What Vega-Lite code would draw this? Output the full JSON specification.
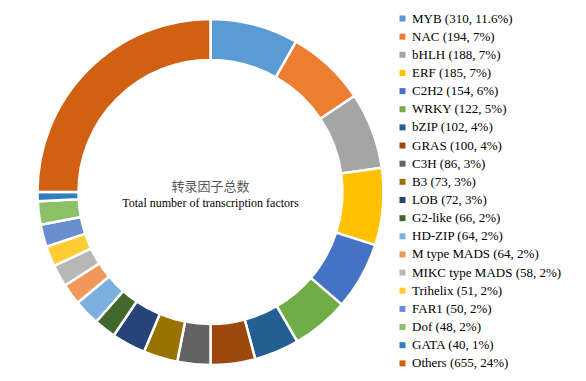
{
  "$schema": "https://vega.github.io/schema/vega-lite/v6.json",
  "width": 421,
  "height": 384,
  "padding": 0,
  "autosize": {"type": "pad"},
  "config": {"view": {"stroke": null}, "font": "Liberation Serif"},
  "layer": [
    {
      "data": {"values": [
        {"i": 1, "label": "MYB (310, 11.6%)", "share": 29.65},
        {"i": 2, "label": "NAC (194, 7%)", "share": 26.65},
        {"i": 3, "label": "bHLH (188, 7%)", "share": 25.65},
        {"i": 4, "label": "ERF (185, 7%)", "share": 25.95},
        {"i": 5, "label": "C2H2 (154, 6%)", "share": 22.7},
        {"i": 6, "label": "WRKY (122, 5%)", "share": 19.3},
        {"i": 7, "label": "bZIP (102, 4%)", "share": 15.1},
        {"i": 8, "label": "GRAS (100, 4%)", "share": 15.0},
        {"i": 9, "label": "C3H (86, 3%)", "share": 11.1},
        {"i": 10, "label": "B3 (73, 3%)", "share": 11.5},
        {"i": 11, "label": "LOB (72, 3%)", "share": 11.4},
        {"i": 12, "label": "G2-like (66, 2%)", "share": 7.4},
        {"i": 13, "label": "HD-ZIP (64, 2%)", "share": 8.8},
        {"i": 14, "label": "M type MADS (64, 2%)", "share": 7.1},
        {"i": 15, "label": "MIKC type MADS (58, 2%)", "share": 7.4},
        {"i": 16, "label": "Trihelix (51, 2%)", "share": 6.9},
        {"i": 17, "label": "FAR1 (50, 2%)", "share": 7.5},
        {"i": 18, "label": "Dof (48, 2%)", "share": 7.8},
        {"i": 19, "label": "GATA (40, 1%)", "share": 3.1},
        {"i": 20, "label": "Others (655, 24%)", "share": 90.0}
      ]},
      "mark": {"type": "arc", "outerRadius": 173, "innerRadius": 132, "stroke": "white", "strokeWidth": 2.5},
      "encoding": {
        "theta": {"field": "share", "type": "quantitative", "stack": true},
        "order": {"field": "i", "type": "quantitative"},
        "color": {
          "field": "label",
          "type": "nominal",
          "scale": {
            "domain": ["MYB (310, 11.6%)", "NAC (194, 7%)", "bHLH (188, 7%)", "ERF (185, 7%)", "C2H2 (154, 6%)", "WRKY (122, 5%)", "bZIP (102, 4%)", "GRAS (100, 4%)", "C3H (86, 3%)", "B3 (73, 3%)", "LOB (72, 3%)", "G2-like (66, 2%)", "HD-ZIP (64, 2%)", "M type MADS (64, 2%)", "MIKC type MADS (58, 2%)", "Trihelix (51, 2%)", "FAR1 (50, 2%)", "Dof (48, 2%)", "GATA (40, 1%)", "Others (655, 24%)"],
            "range": ["#5B9BD5", "#ED7D31", "#A5A5A5", "#FFC000", "#4472C4", "#70AD47", "#255E91", "#9E480E", "#636363", "#997300", "#264478", "#43682B", "#7CAFDD", "#F1975A", "#B7B7B7", "#FFCD33", "#698ED0", "#8CC168", "#327DC2", "#D26012"]
          },
          "legend": {
            "title": null,
            "orient": "none",
            "legendX": 396,
            "legendY": 12,
            "symbolType": "square",
            "symbolSize": 36,
            "symbolStrokeWidth": 0,
            "labelFont": "Liberation Serif",
            "labelFontSize": 13,
            "labelColor": "#000000",
            "labelOffset": 3,
            "rowPadding": 4.15,
            "labelLimit": 300
          }
        }
      }
    },
    {
      "data": {"values": [{"t": "转录因子总数"}]},
      "mark": {"type": "text", "font": "Noto Sans CJK SC", "fontSize": 13, "color": "#595959", "dy": -5.5, "baseline": "middle", "align": "center"},
      "encoding": {"text": {"field": "t"}}
    },
    {
      "data": {"values": [{"t": "Total number of transcription factors"}]},
      "mark": {"type": "text", "font": "Liberation Serif", "fontSize": 12, "color": "#000000", "dy": 11, "baseline": "middle", "align": "center"},
      "encoding": {"text": {"field": "t"}}
    }
  ]
}
